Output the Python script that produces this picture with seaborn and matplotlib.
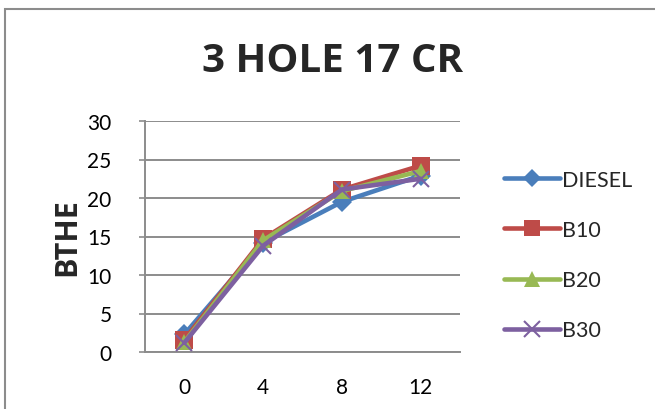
import matplotlib
matplotlib.use("Agg")
import matplotlib.pyplot as plt
import matplotlib.patches as mpatches
import seaborn as sns
import pandas as pd

# Injection timing categories and brake thermal efficiency per fuel blend
categories = [0, 4, 8, 12]
diesel = [2.3, 14.2, 19.5, 22.9]
b10 = [1.6, 14.7, 21.1, 24.2]
b20 = [1.3, 14.5, 20.9, 23.5]
b30 = [1.2, 13.8, 21.1, 22.5]
series_names = ["DIESEL", "B10", "B20", "B30"]
y_ticks = [0, 5, 10, 15, 20, 25, 30]

sns.set_theme(style="white")
plt.rcParams["font.family"] = ["Lato", "DejaVu Sans"]
bold_family = ["Open Sans", "DejaVu Sans"]

rows = []
for name, vals in zip(series_names, [diesel, b10, b20, b30]):
    for c, v in zip(categories, vals):
        rows.append({"x": c, "BTHE": v, "fuel": name})
df = pd.DataFrame(rows)

palette = {"DIESEL": "#4A7EBB", "B10": "#BE4B48", "B20": "#98B954", "B30": "#7D60A0"}
markers = {"DIESEL": "D", "B10": "s", "B20": "^", "B30": "x"}
msize = {"DIESEL": 10, "B10": 13, "B20": 12, "B30": 12}

fig = plt.figure(figsize=(6.55, 4.10), dpi=100)
ax = fig.add_axes([145 / 655, 57 / 410, 315 / 655, 231 / 410])

for name in series_names:
    sub = df[df["fuel"] == name]
    sns.lineplot(data=sub, x="x", y="BTHE", ax=ax, color=palette[name],
                 marker=markers[name], markersize=msize[name],
                 markeredgewidth=1.5 if name == "B30" else 0,
                 markeredgecolor=palette[name],
                 linewidth=3.3, label=name, legend=False, zorder=3)

ax.set_xlim(-2, 14)
ax.set_ylim(0, 30)
ax.set_xticks(categories)
ax.set_xticklabels([str(c) for c in categories])
ax.set_yticks(y_ticks)
ax.set_yticklabels([str(t) for t in y_ticks])
ax.yaxis.grid(True, color="#8C8C8C", linewidth=1.4)
ax.xaxis.grid(False)
for side in ["top", "right"]:
    ax.spines[side].set_visible(False)
for side in ["left", "bottom"]:
    ax.spines[side].set_color("#8C8C8C")
    ax.spines[side].set_linewidth(1.4)
ax.tick_params(axis="y", length=4, width=1.2, color="#8C8C8C", pad=20,
               labelsize=15, labelcolor="black", left=True)
ax.tick_params(axis="x", length=0, pad=18, labelsize=15, labelcolor="black")
ax.set_xlabel("")
ax.set_ylabel("BTHE", fontsize=22, fontweight="bold", family=bold_family,
              labelpad=4)

fig.text(0.507, 1 - 62 / 410, "3 HOLE 17 CR", ha="center", va="center",
         fontsize=29, fontweight="bold", family=bold_family)

handles = []
for name in series_names:
    h = plt.Line2D([], [], color=palette[name], marker=markers[name],
                   markersize=msize[name] - 1,
                   markeredgewidth=1.5 if name == "B30" else 0,
                   markeredgecolor=palette[name], linewidth=3.3,
                   solid_capstyle="round")
    handles.append(h)
leg = fig.legend(handles, series_names, loc="center left",
                 bbox_to_anchor=(485 / 655, 1 - 256 / 410), frameon=False,
                 fontsize=15.5, handlelength=2.6, handletextpad=0.1,
                 labelspacing=1.4)

# Chart frame (top and left edges fall inside the canvas)
fig.add_artist(mpatches.Rectangle((5 / 655, -0.1), 1.2, 1 - 10 / 410 + 0.1,
                                  transform=fig.transFigure, fill=False,
                                  edgecolor="#8C8C8C", linewidth=1.5))

fig.savefig("out.png", dpi=100, facecolor="white")
